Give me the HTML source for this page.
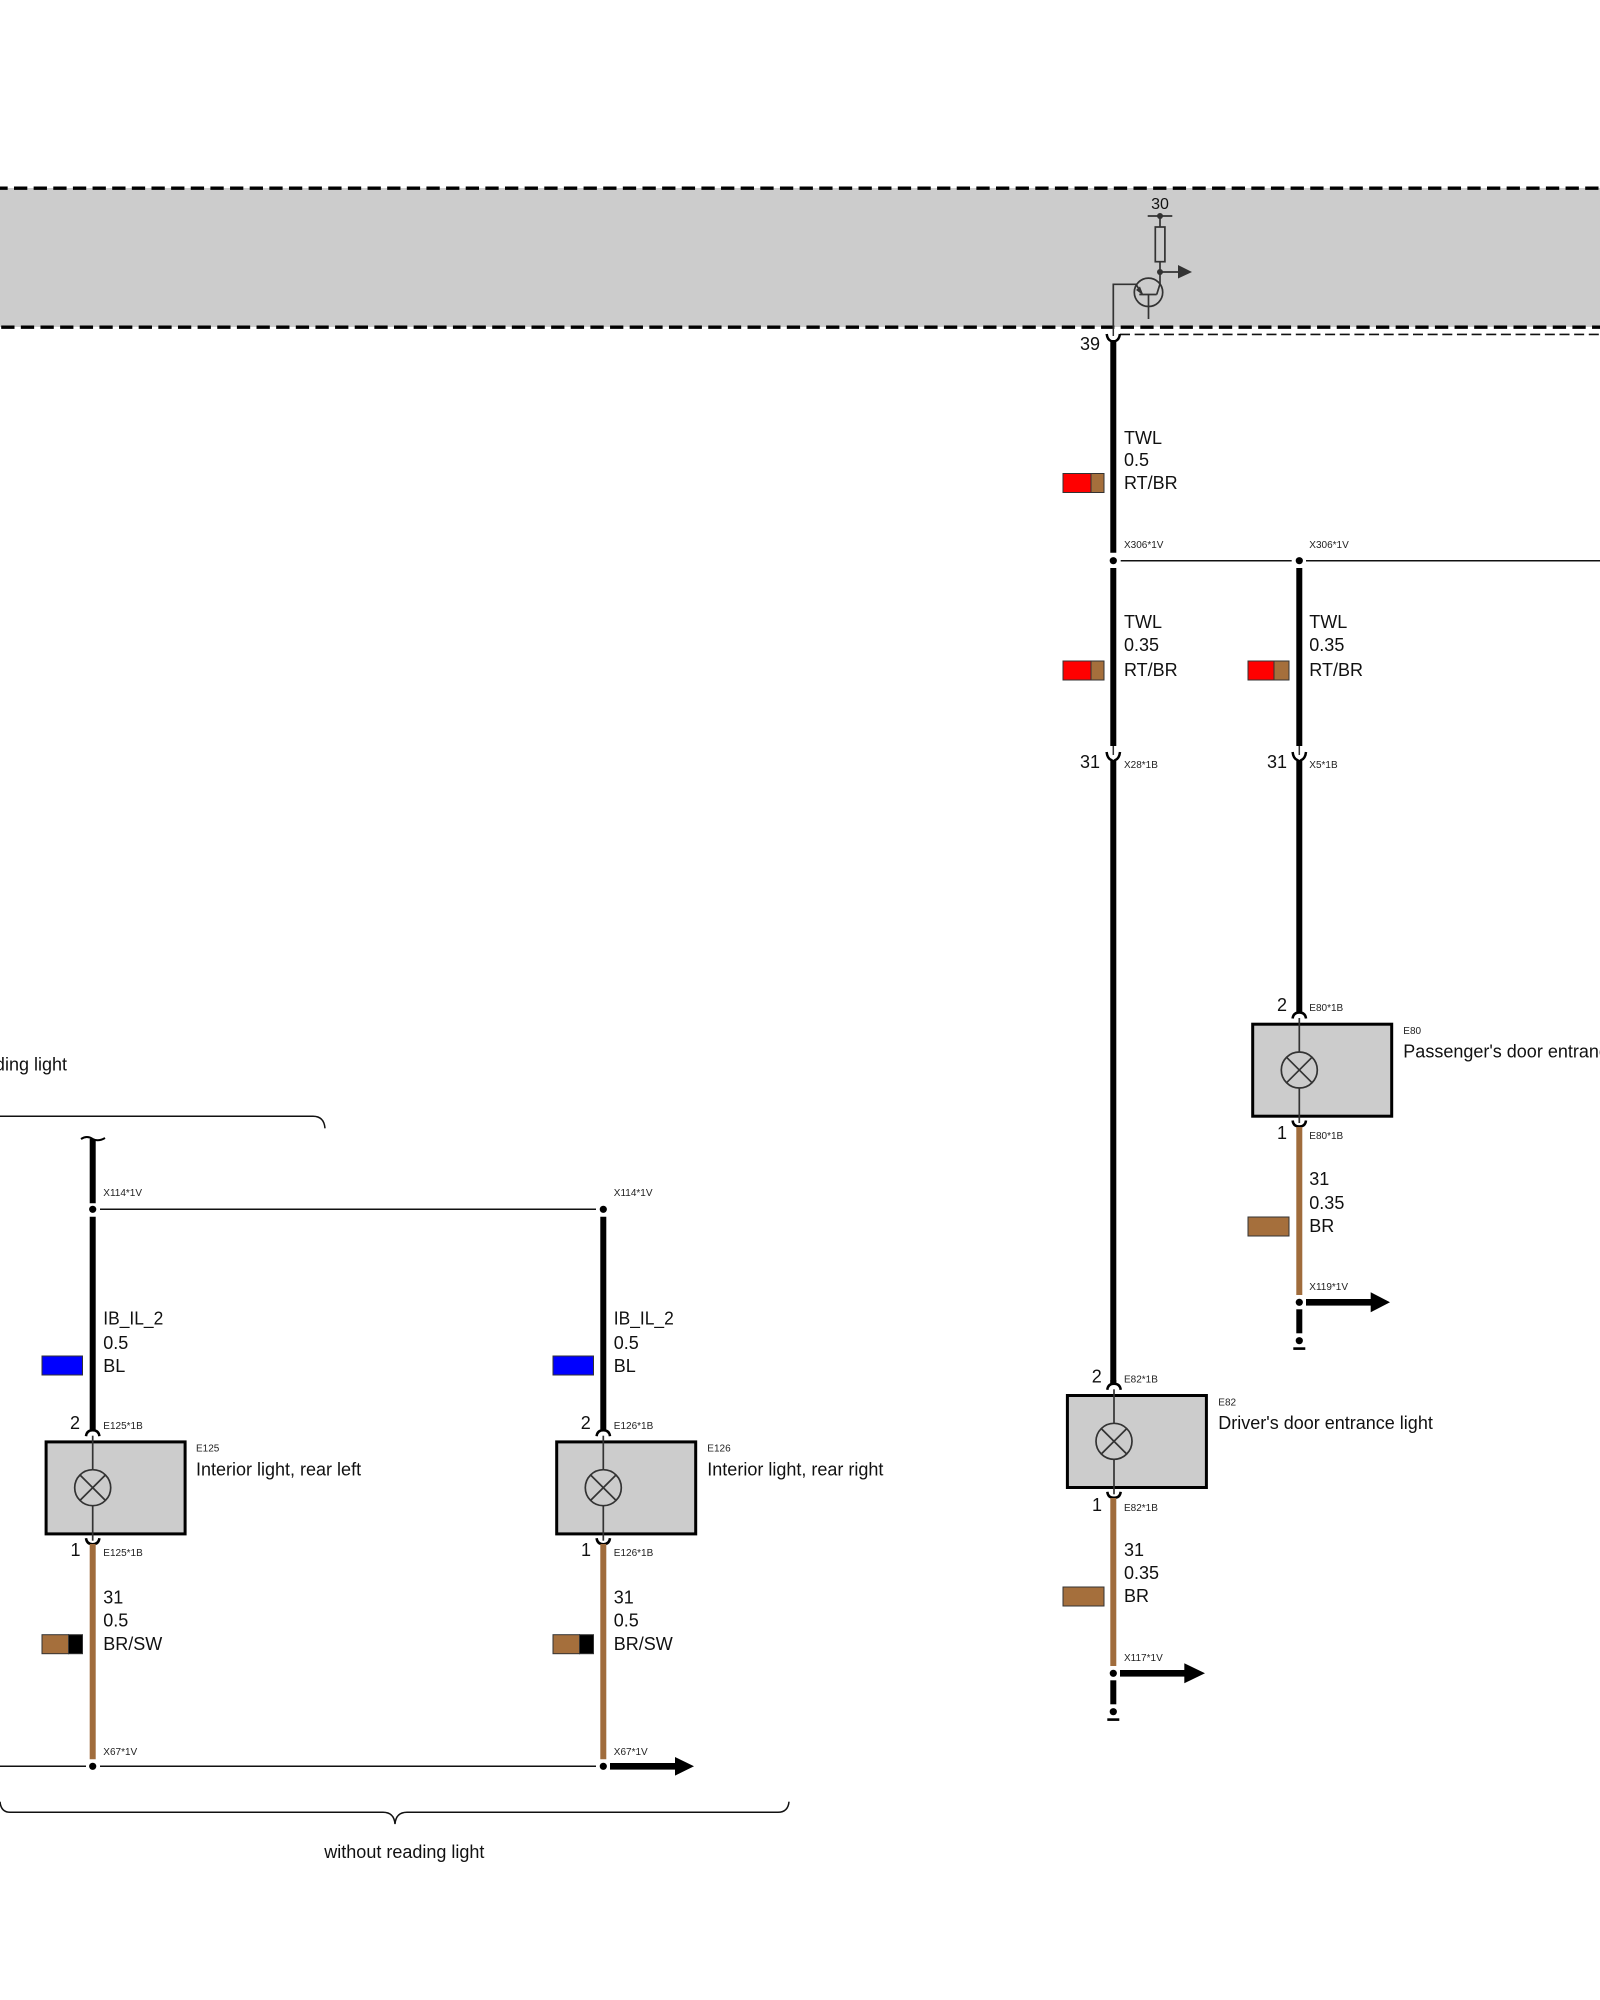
<!DOCTYPE html>
<html>
<head>
<meta charset="utf-8">
<style>
html,body{margin:0;padding:0;background:#fff;width:1600px;height:2000px;overflow:hidden}
svg{display:block}
text{font-family:"Liberation Sans",Arial,sans-serif;fill:#111;font-size:18px}
.s{font-size:10px;fill:#222}
.w{stroke:#000;stroke-width:6;fill:none}
.b{stroke:#a06c3c;stroke-width:6;fill:none}
.t{stroke:#111;stroke-width:1.5;fill:none}
.g{stroke:#333;stroke-width:1.7;fill:none}
.c{stroke:#000;stroke-width:2.5;fill:none}
.sw{stroke:#333;stroke-width:1}
</style>
</head>
<body>
<svg width="1600" height="2000" viewBox="0 0 1600 2000" xmlns="http://www.w3.org/2000/svg">
<defs>
<g id="lamp">
  <rect x="-46.6" y="-45.8" width="139" height="92" fill="#ccc" stroke="#000" stroke-width="3"/>
  <line class="g" x1="0" y1="-52" x2="0" y2="-18"/>
  <line class="g" x1="0" y1="18" x2="0" y2="53"/>
  <circle cx="0" cy="0" r="18" fill="none" stroke="#333" stroke-width="1.7"/>
  <line class="g" x1="-12.7" y1="-12.7" x2="12.7" y2="12.7"/>
  <line class="g" x1="-12.7" y1="12.7" x2="12.7" y2="-12.7"/>
  <path class="c" d="M-6.7,-51.5 Q-6,-57.5 0,-57.5 Q6,-57.5 6.7,-51.5"/>
  <path class="c" d="M-6.7,50.5 Q-6,56.5 0,56.5 Q6,56.5 6.7,50.5"/>
</g>
<g id="cup">
  <path class="c" d="M-6.7,-8 Q-6,-1.5 -2,0 Q0,1 0,4 Q0,1 2,0 Q6,-1.5 6.7,-8"/>
  <line x1="0" y1="-14" x2="0" y2="-5" stroke="#333" stroke-width="1.5"/>
</g>
<g id="term">
  <circle cx="0" cy="0" r="3.6" fill="#000"/>
  <line x1="0" y1="7" x2="0" y2="31" stroke="#000" stroke-width="6"/>
  <circle cx="0" cy="38.4" r="3.6" fill="#000"/>
  <rect x="-6" y="45" width="12" height="2.6" fill="#000"/>
</g>
</defs>

<!-- Gray band -->
<rect x="0" y="188" width="1600" height="139" fill="#ccc"/>
<line x1="0" y1="188.2" x2="1600" y2="188.2" stroke="#000" stroke-width="3.4" stroke-dasharray="13.3 6.34" stroke-dashoffset="5.64"/>
<line x1="1.2" y1="327.2" x2="1600" y2="327.2" stroke="#000" stroke-width="3.4" stroke-dasharray="13.3 6.34"/>
<line x1="1120" y1="334.4" x2="1600" y2="334.4" stroke="#111" stroke-width="1.6" stroke-dasharray="10 4.65"/>

<!-- Transistor circuit -->
<text x="1160" y="209" text-anchor="middle" style="font-size:16px">30</text>
<line class="g" x1="1147.7" y1="216" x2="1172.3" y2="216"/>
<circle cx="1160" cy="216" r="3" fill="#333"/>
<line class="g" x1="1160" y1="216" x2="1160" y2="227"/>
<rect x="1155.3" y="227" width="9.6" height="34.7" fill="none" stroke="#333" stroke-width="1.7"/>
<line class="g" x1="1160" y1="261.7" x2="1160" y2="284"/>
<circle cx="1160" cy="272" r="3" fill="#333"/>
<line class="g" x1="1160" y1="272" x2="1178" y2="272"/>
<polygon points="1178,265 1192,272 1178,278.5" fill="#333"/>
<circle cx="1148.5" cy="292.3" r="14.2" fill="none" stroke="#333" stroke-width="1.7"/>
<path class="g" d="M1113.3,327 V284.3 H1136 L1142,294"/>
<polygon points="1143.5,295.5 1136,290 1140,286.5" fill="#333"/>
<line class="g" x1="1139.3" y1="294.5" x2="1156.7" y2="294.5"/>
<line class="g" x1="1148.5" y1="294.5" x2="1148.5" y2="319"/>
<line class="g" x1="1156.7" y1="294.5" x2="1160" y2="284"/>

<!-- Driver's wire -->
<line x1="1113.3" y1="327" x2="1113.3" y2="336" stroke="#333" stroke-width="1.5"/>
<path class="c" d="M1106.7,334 Q1107.3,339.5 1111,341 Q1113.3,342 1113.3,345 Q1113.3,342 1115.6,341 Q1119.3,339.5 1119.9,334"/>
<line class="w" x1="1113.3" y1="340" x2="1113.3" y2="552.7"/>
<text x="1080" y="350">39</text>
<text x="1124" y="444">TWL</text>
<text x="1124" y="466">0.5</text>
<text x="1124" y="489">RT/BR</text>
<rect class="sw" x="1063" y="473.5" width="28" height="19" fill="#f00"/>
<rect class="sw" x="1091" y="473.5" width="13" height="19" fill="#a56f3c"/>
<text class="s" x="1124" y="548">X306*1V</text>
<circle cx="1113.3" cy="560.7" r="3.6" fill="#000"/>
<line class="t" x1="1120.7" y1="560.7" x2="1291.7" y2="560.7"/>
<line class="t" x1="1306" y1="560.7" x2="1600" y2="560.7"/>
<line class="w" x1="1113.3" y1="568" x2="1113.3" y2="746"/>
<text x="1124" y="628">TWL</text>
<text x="1124" y="651">0.35</text>
<text x="1124" y="676">RT/BR</text>
<rect class="sw" x="1063" y="661" width="28" height="19" fill="#f00"/>
<rect class="sw" x="1091" y="661" width="13" height="19" fill="#a56f3c"/>
<use href="#cup" x="1113.3" y="760"/>
<text x="1080" y="768">31</text>
<text class="s" x="1124" y="768">X28*1B</text>
<line class="w" x1="1113.3" y1="760" x2="1113.3" y2="1384"/>

<!-- Passenger's wire -->
<circle cx="1299.3" cy="560.7" r="3.6" fill="#000"/>
<text class="s" x="1309.3" y="548">X306*1V</text>
<line class="w" x1="1299.3" y1="568" x2="1299.3" y2="746"/>
<text x="1309.3" y="628">TWL</text>
<text x="1309.3" y="651">0.35</text>
<text x="1309.3" y="676">RT/BR</text>
<rect class="sw" x="1248" y="661" width="26" height="19" fill="#f00"/>
<rect class="sw" x="1274" y="661" width="15" height="19" fill="#a56f3c"/>
<use href="#cup" x="1299.3" y="760"/>
<text x="1267" y="768">31</text>
<text class="s" x="1309.3" y="768">X5*1B</text>
<line class="w" x1="1299.3" y1="760" x2="1299.3" y2="1013"/>

<!-- E80 -->
<use href="#lamp" x="1299.3" y="1070"/>
<text x="1277" y="1011">2</text>
<text class="s" x="1309.3" y="1011">E80*1B</text>
<text class="s" x="1403.3" y="1034">E80</text>
<text x="1403.3" y="1057.5">Passenger's door entrance light</text>
<text x="1277" y="1139">1</text>
<text class="s" x="1309.3" y="1139">E80*1B</text>
<line class="b" x1="1299.3" y1="1127" x2="1299.3" y2="1295"/>
<text x="1309.3" y="1185">31</text>
<text x="1309.3" y="1209">0.35</text>
<text x="1309.3" y="1232">BR</text>
<rect class="sw" x="1248" y="1217" width="41" height="19" fill="#a56f3c"/>
<text class="s" x="1309.3" y="1290">X119*1V</text>
<use href="#term" x="1299.3" y="1302.3"/>
<rect x="1306" y="1299" width="65" height="6.6" fill="#000"/>
<polygon points="1370.7,1292.3 1390,1302.3 1370.7,1312.3" fill="#000"/>

<!-- E82 -->
<use href="#lamp" x="1114" y="1441.3"/>
<line class="w" x1="1113.3" y1="1380" x2="1113.3" y2="1384"/>
<text x="1091.8" y="1382.7">2</text>
<text class="s" x="1124" y="1382.7">E82*1B</text>
<text class="s" x="1218.3" y="1405.7">E82</text>
<text x="1218.3" y="1429">Driver's door entrance light</text>
<text x="1092" y="1511">1</text>
<text class="s" x="1124" y="1511">E82*1B</text>
<line class="b" x1="1113.3" y1="1498" x2="1113.3" y2="1666"/>
<text x="1124" y="1556">31</text>
<text x="1124" y="1579">0.35</text>
<text x="1124" y="1602">BR</text>
<rect class="sw" x="1063" y="1587" width="41" height="19" fill="#a56f3c"/>
<text class="s" x="1124" y="1661">X117*1V</text>
<use href="#term" x="1113.3" y="1673.3"/>
<rect x="1120" y="1670" width="65" height="6.6" fill="#000"/>
<polygon points="1184.3,1663.3 1205,1673.3 1184.3,1683.3" fill="#000"/>

<!-- With reading light brace -->
<text x="67" y="1070.7" text-anchor="end">with reading light</text>
<path class="t" d="M0,1116.3 H313 Q324,1116.3 325,1128.3"/>

<!-- E125 wire -->
<path d="M81,1139 Q87,1135 92.7,1139 Q98,1142 105,1138" stroke="#000" stroke-width="2" fill="none"/>
<line class="w" x1="92.7" y1="1139" x2="92.7" y2="1203.3"/>
<circle cx="92.7" cy="1209.3" r="3.6" fill="#000"/>
<text class="s" x="103.3" y="1196">X114*1V</text>
<line class="t" x1="100" y1="1209.3" x2="596" y2="1209.3"/>
<line class="w" x1="92.7" y1="1216.7" x2="92.7" y2="1430"/>
<text x="103.3" y="1324.3" textLength="60" lengthAdjust="spacingAndGlyphs">IB_IL_2</text>
<text x="103.3" y="1349">0.5</text>
<text x="103.3" y="1372">BL</text>
<rect class="sw" x="42" y="1356" width="40.5" height="19" fill="#00f"/>
<text x="70" y="1429">2</text>
<text class="s" x="103.3" y="1429">E125*1B</text>

<!-- E125 -->
<use href="#lamp" x="92.7" y="1487.7"/>
<text class="s" x="196" y="1451.7">E125</text>
<text x="196" y="1475.7">Interior light, rear left</text>
<text x="70.5" y="1556">1</text>
<text class="s" x="103.3" y="1556">E125*1B</text>
<line class="b" x1="92.7" y1="1544" x2="92.7" y2="1759.3"/>
<text x="103.3" y="1603.3">31</text>
<text x="103.3" y="1626.7">0.5</text>
<text x="103.3" y="1650">BR/SW</text>
<rect class="sw" x="42" y="1634.7" width="26.5" height="19" fill="#a56f3c"/>
<rect class="sw" x="68.5" y="1634.7" width="14" height="19" fill="#000"/>
<text class="s" x="103.3" y="1755">X67*1V</text>
<circle cx="92.7" cy="1766.3" r="3.6" fill="#000"/>
<line class="t" x1="0" y1="1766.3" x2="86" y2="1766.3"/>
<line class="t" x1="100" y1="1766.3" x2="596" y2="1766.3"/>

<!-- E126 wire -->
<circle cx="603.3" cy="1209.3" r="3.6" fill="#000"/>
<text class="s" x="613.8" y="1196">X114*1V</text>
<line class="w" x1="603.3" y1="1216.7" x2="603.3" y2="1430"/>
<text x="613.8" y="1324.3" textLength="60" lengthAdjust="spacingAndGlyphs">IB_IL_2</text>
<text x="613.8" y="1349">0.5</text>
<text x="613.8" y="1372">BL</text>
<rect class="sw" x="553" y="1356" width="40.5" height="19" fill="#00f"/>
<text x="580.7" y="1429">2</text>
<text class="s" x="613.8" y="1429">E126*1B</text>

<!-- E126 -->
<use href="#lamp" x="603.3" y="1487.7"/>
<text class="s" x="707.3" y="1451.7">E126</text>
<text x="707.3" y="1475.7">Interior light, rear right</text>
<text x="581" y="1556">1</text>
<text class="s" x="613.8" y="1556">E126*1B</text>
<line class="b" x1="603.3" y1="1544" x2="603.3" y2="1759.3"/>
<text x="613.8" y="1603.3">31</text>
<text x="613.8" y="1626.7">0.5</text>
<text x="613.8" y="1650">BR/SW</text>
<rect class="sw" x="553" y="1634.7" width="26.5" height="19" fill="#a56f3c"/>
<rect class="sw" x="579.5" y="1634.7" width="14" height="19" fill="#000"/>
<text class="s" x="613.8" y="1755">X67*1V</text>
<circle cx="603.3" cy="1766.3" r="3.6" fill="#000"/>
<rect x="610" y="1763" width="65" height="6.6" fill="#000"/>
<polygon points="675,1757 694,1766.3 675,1775.6" fill="#000"/>

<!-- Without reading light brace -->
<path class="t" d="M0,1801.7 Q1,1812.3 10,1812.3 H383 Q394,1812.3 395,1824 Q396,1812.3 407,1812.3 H778 Q788,1812.3 789,1801.7"/>
<text x="324.3" y="1858">without reading light</text>
</svg>
</body>
</html>
